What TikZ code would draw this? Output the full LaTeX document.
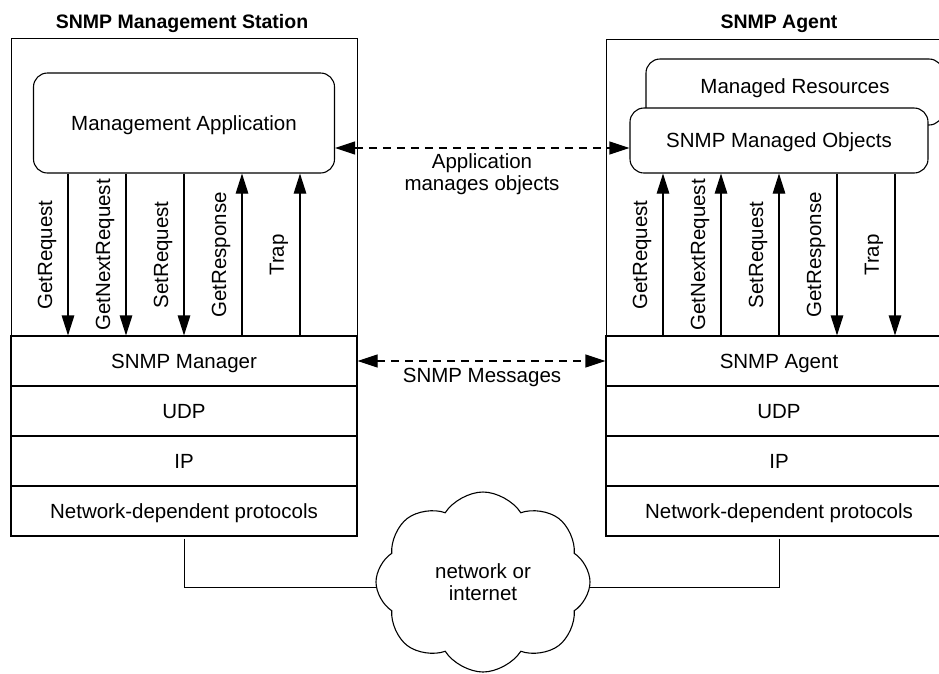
\documentclass[tikz,border=0pt]{standalone}
\usepackage{fontspec}
\setmainfont{Liberation Sans}
\usetikzlibrary{arrows.meta,shapes.symbols,backgrounds}
\begin{document}
\begin{tikzpicture}[x=1pt,y=-1pt, line width=1.1pt,
  every node/.style={font=\fontsize{20.5}{22}\selectfont, inner sep=0pt},
  layer/.style={draw, minimum width=346pt, minimum height=50pt, text height=14.7pt, text depth=0pt},
  outerbox/.style={draw, anchor=north west, minimum width=346pt},
  appbox/.style={draw, fill=white, rounded corners=14pt, text height=14.7pt, text depth=0pt},
  tip/.style={-{Triangle[length=20pt,width=12.5pt]}},
  dasharrow/.style={dash pattern=on 8pt off 6pt, {Triangle[length=20pt,width=13pt]}-{Triangle[length=20pt,width=13pt]}},
  msglabel/.style={rotate=90},
  title/.style={font=\fontsize{19.5}{23}\selectfont\bfseries}]
\clip (0,0) rectangle (939,673);

% titles
\node[title] (t1) at (182,23) {SNMP Management Station};
\node[title] (t2) at (779,24) {SNMP Agent};

% outer boxes
\node[outerbox, minimum height=498pt] (ms) at (11,38) {};
\node[outerbox, minimum height=497pt] (ag) at (606,39) {};

% layers, manager side
\node[layer] (mgr)  at (184,361) {SNMP Manager};
\node[layer] (udpl) at (184,411) {UDP};
\node[layer] (ipl)  at (184,461) {IP};
\node[layer] (ndpl) at (184,511) {Network-dependent protocols};
% layers, agent side
\node[layer] (agt)  at (779,361) {SNMP Agent};
\node[layer] (udpr) at (779,411) {UDP};
\node[layer] (ipr)  at (779,461) {IP};
\node[layer] (ndpr) at (779,511) {Network-dependent protocols};

% application boxes
\node[appbox, minimum width=301pt, minimum height=100pt] (app) at (184,123) {Management Application};
\node[appbox, minimum width=297pt, minimum height=66pt] (res) at (794.5,92) {};
\node[text height=14.7pt, text depth=0pt] (restext) at (795,86) {Managed Resources};
\node[appbox, minimum width=298pt, minimum height=65pt] (obj) at (779,140.5) {SNMP Managed Objects};

% message arrows, manager side
\foreach \dx in {-116,-58,0}
  \draw[tip] ([xshift=\dx pt]app.south) -- ([xshift=\dx pt]mgr.north);
\foreach \dx in {58,116}
  \draw[tip] ([xshift=\dx pt]mgr.north) -- ([xshift=\dx pt]app.south);
% message arrows, agent side
\foreach \dx in {-116,-58,0}
  \draw[tip] ([xshift=\dx pt]agt.north) -- ([xshift=\dx pt]obj.south);
\foreach \dx in {58,116}
  \draw[tip] ([xshift=\dx pt]obj.south) -- ([xshift=\dx pt]agt.north);

% labels
\foreach \dx/\lab/\nm in {-116/GetRequest/a, -58/GetNextRequest/b, 0/SetRequest/c, 58/GetResponse/d, 116/Trap/e} {
  \node[msglabel] (ml\nm) at ({184+\dx-21},255) {\lab};
  \node[msglabel] (al\nm) at ({779+\dx-21},255) {\lab};
}

% dashed arrows
\coordinate (d1) at ([yshift=-25pt]app.east);
\draw[dasharrow] (d1) -- (d1 -| obj.west);
\node[align=center] (amo) at (482,174) {Application\\manages objects};
\draw[dasharrow] (mgr.east) -- (agt.west);
\node (smsg) at (482,377) {SNMP Messages};

% network cloud
\node[cloud, draw, fill=white, cloud puffs=8, cloud puff arc=115, cloud ignores aspect,
      minimum width=214pt, minimum height=180pt, align=center] (net) at (483,582) {network or\\internet};
\begin{pgfonlayer}{background}
\fill[white] (0,0) rectangle (939,673);
\draw ([yshift=-2pt]ndpl.south) |- ([yshift=-5pt]net.center);
\draw ([yshift=-2pt]ndpr.south) |- ([yshift=-5pt]net.center);
\end{pgfonlayer}
\end{tikzpicture}
\end{document}
